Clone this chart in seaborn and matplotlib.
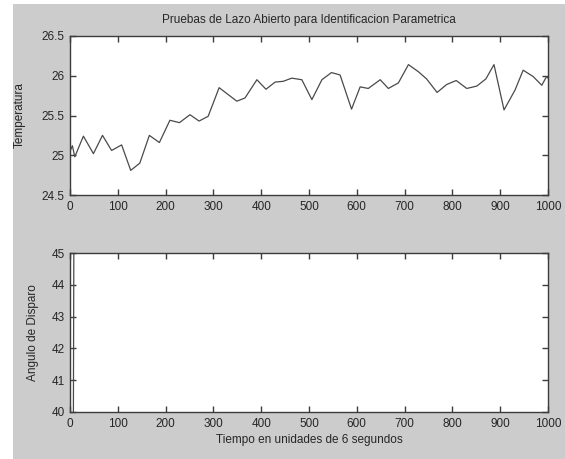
import numpy as np
import pandas as pd
import seaborn as sns
import matplotlib
matplotlib.use("Agg")
import matplotlib.pyplot as plt
from matplotlib.patches import Rectangle

# ---- data ----
tiempo = [0, 5, 10, 28, 49, 68, 87, 108, 127, 146, 166, 187, 209, 229, 251, 270,
          289, 312, 349, 366, 391, 410, 429, 446, 464, 485, 506, 527, 547, 565,
          589, 607, 624, 649, 666, 687, 708, 729, 746, 768, 788, 808, 830, 851,
          870, 887, 908, 931, 948, 969, 987, 997, 1000]
temperatura = [25.05, 25.12, 24.98, 25.24, 25.02, 25.25, 25.06, 25.13, 24.81, 24.90,
               25.25, 25.16, 25.44, 25.41, 25.51, 25.43, 25.49, 25.85, 25.68, 25.72,
               25.95, 25.83, 25.92, 25.93, 25.97, 25.95, 25.70, 25.95, 26.04, 26.01,
               25.58, 25.86, 25.84, 25.95, 25.84, 25.91, 26.14, 26.05, 25.96, 25.79,
               25.89, 25.94, 25.84, 25.87, 25.96, 26.14, 25.57, 25.82, 26.07, 25.99,
               25.88, 25.99, 25.97]

tiempo_ang = [0, 8, 1000]
angulo = [0, 45, 45]

titulo = "Pruebas de Lazo Abierto para Identificacion Parametrica"
ylab_top = "Temperatura"
ylab_bot = "Angulo de Disparo"
xlab = "Tiempo en unidades de 6 segundos"
xticks = [0, 100, 200, 300, 400, 500, 600, 700, 800, 900, 1000]
yticks_top = [24.5, 25, 25.5, 26, 26.5]
yticks_bot = [40, 41, 42, 43, 44, 45]

df_t = pd.DataFrame({"t": tiempo, "v": temperatura})
df_a = pd.DataFrame({"t": tiempo_ang, "v": angulo})

sns.set_style("white")
plt.rcParams["font.family"] = ["Liberation Sans", "DejaVu Sans"]

W, H = 565, 459
fig = plt.figure(figsize=(W / 100, H / 100), dpi=100, facecolor="white")
fig.patches.append(Rectangle((13 / W, 0), 1 - 13 / W, (H - 4) / H,
                             transform=fig.transFigure, facecolor="#cccccc",
                             edgecolor="none", zorder=-10))

def fx(px):
    return px / W

def fy(py):
    return 1 - py / H

ax1 = fig.add_axes([fx(70), fy(195), fx(548) - fx(70), fy(36) - fy(195)])
ax2 = fig.add_axes([fx(70), fy(412), fx(548) - fx(70), fy(253) - fy(412)])

txt_col = "#262626"
line_col = "#4a4a4a"
fs = 8.5

sns.lineplot(data=df_t, x="t", y="v", ax=ax1, color=line_col, linewidth=0.9)
sns.lineplot(data=df_a, x="t", y="v", ax=ax2, color=line_col, linewidth=0.9)

for ax, yt in ((ax1, yticks_top), (ax2, yticks_bot)):
    ax.set_facecolor("white")
    ax.set_xlim(0, 1000)
    ax.set_ylim(yt[0], yt[-1])
    ax.set_xticks(xticks)
    ax.set_yticks(yt)
    ax.set_xticklabels([str(v) for v in xticks])
    ax.set_yticklabels([("%g" % v) for v in yt])
    for s in ax.spines.values():
        s.set_visible(True)
        s.set_color("#3c3c3c")
        s.set_linewidth(1.0)
    ax.tick_params(direction="in", length=4, width=1, color="#3c3c3c",
                   top=True, right=True, bottom=True, left=True,
                   labelsize=fs, labelcolor=txt_col, pad=4)
    ax.set_xlabel("")
    ax.set_ylabel("")

ax1.set_title(titulo, fontsize=fs, color=txt_col, pad=9)
ax1.set_ylabel(ylab_top, fontsize=fs, color=txt_col, labelpad=11)
ax2.set_ylabel(ylab_bot, fontsize=fs, color=txt_col, labelpad=9)
ax2.set_xlabel(xlab, fontsize=fs, color=txt_col, labelpad=3)

fig.savefig("out.png", dpi=100, facecolor="white")
